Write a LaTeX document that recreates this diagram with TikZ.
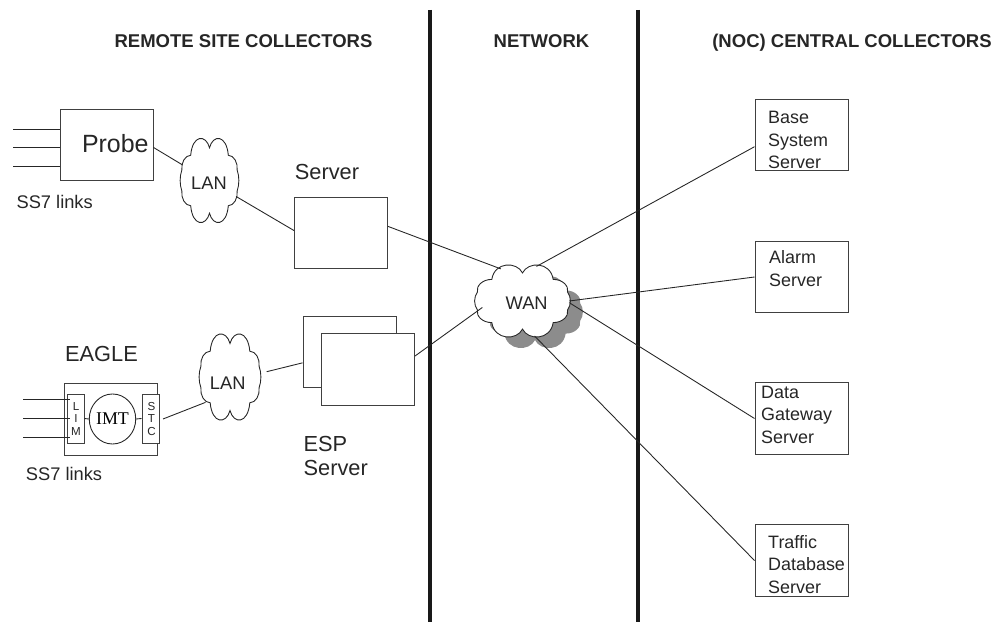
\documentclass[tikz,border=0pt]{standalone}
\usepackage{fontspec}
\setmainfont{Liberation Sans}
\newfontfamily\imtfont{Liberation Serif}
\usetikzlibrary{shapes.geometric}
\tikzset{
  thinline/.style={draw=black!85,line width=0.75pt},
  divider/.style={draw=black!90,line width=3.8pt},
  plainbox/.style={draw=black!75,line width=0.85pt,fill=white,inner sep=0pt,minimum width=2.79cm,minimum height=2.14cm},
  slotbox/.style={plainbox,minimum width=0.51cm,minimum height=1.47cm},
  port/.style={ellipse,inner sep=0pt},
  heading/.style={font=\fontsize{15.8}{19}\selectfont\bfseries,text=black!85},
  midlabel/.style={font=\fontsize{15.6}{19}\selectfont,text=black!85},
  biglabel/.style={font=\fontsize{18.6}{21.2}\selectfont,text=black!85,align=left},
  boxlabel/.style={font=\fontsize{15.3}{19.2}\selectfont,text=black!85,align=left,anchor=west,inner sep=0pt},
  slotlabel/.style={font=\fontsize{9.9}{11}\selectfont,text=black!85,align=center},
  puffs/.pic={
    \path[pic actions] (0,-0.78) .. controls (0.12,-1.1) and (0.6,-1.1) .. (0.66,-0.6)
      .. controls (0.86,-0.6) and (1.0,-0.42) .. (0.97,-0.25)
      .. controls (1.05,-0.1) and (1.05,0.1) .. (0.97,0.25)
      .. controls (1.0,0.42) and (0.86,0.6) .. (0.66,0.6)
      .. controls (0.6,1.1) and (0.12,1.1) .. (0,0.78)
      .. controls (-0.12,1.1) and (-0.6,1.1) .. (-0.66,0.6)
      .. controls (-0.86,0.6) and (-1.0,0.42) .. (-0.97,0.25)
      .. controls (-1.05,0.1) and (-1.05,-0.1) .. (-0.97,-0.25)
      .. controls (-1.0,-0.42) and (-0.86,-0.6) .. (-0.66,-0.6)
      .. controls (-0.6,-1.1) and (-0.12,-1.1) .. (0,-0.78) -- cycle;
  },
  cloudline/.style={draw=black!85,line width=0.75pt,fill=white},
}
\begin{document}
\begin{tikzpicture}[x=0.03cm,y=-0.03cm]
  \useasboundingbox (0,0) rectangle (994,622);
  \draw[divider] (430,10) -- (430,622);
  \draw[divider] (638,10) -- (638,622);
  \node[heading] (remotehead) at (243.5,41) {REMOTE SITE COLLECTORS};
  \node[heading] (nethead) at (541.5,41) {NETWORK};
  \node[heading] (centralhead) at (852,42.5) {(NOC) CENTRAL COLLECTORS};
  % probe
  \node[plainbox] (probe) at (106.5,145) {};
  \node[text=black!85,font=\fontsize{21.3}{25}\selectfont] (probetext) at (115.3,144) {Probe};
  \coordinate (linka) at (13,129);
  \coordinate (linkb) at (13,147);
  \coordinate (linkc) at (13,166);
  \draw[thinline] (linka) -- (linka -| probe.west);
  \draw[thinline] (linkb) -- (linkb -| probe.west);
  \draw[thinline] (linkc) -- (linkc -| probe.west);
  \node[midlabel] (linkstext) at (54.7,202) {SS7 links};
  \pic[cloudline,xscale=28.5,yscale=42] at (209.5,180.5) {puffs};
  \node[port,minimum width=1.71cm,minimum height=2.52cm] (lanone) at (209.5,180.5) {};
  \node[midlabel] (lanonetext) at (209,183) {LAN};
  \node[plainbox] (server) at (341,233) {};
  \node[biglabel] (servertext) at (327,172) {Server};
  % eagle
  \node[plainbox] (eagle) at (110.5,419.5) {};
  \node[biglabel] (eagletext) at (101.5,354) {EAGLE};
  \node[slotbox] (lim) at (75.5,418.5) {};
  \node[slotlabel] (limtext) at (76,419) {L\\I\\M};
  \node[slotbox] (stc) at (150.5,418.5) {};
  \node[slotlabel] (stctext) at (151.5,419) {S\\T\\C};
  \node[draw=black!85,line width=0.75pt,ellipse,inner sep=0pt,minimum width=1.23cm,minimum height=1.5cm,font=\imtfont\fontsize{15.3}{18}\selectfont] (imt) at (112.5,419) {IMT};
  \coordinate (eaglea) at (23,399);
  \coordinate (eagleb) at (23,418.7);
  \coordinate (eaglec) at (23,437);
  \draw[thinline] (eaglea) -- (70,399);
  \draw[thinline] (eagleb) -- (70,418.7);
  \draw[thinline] (eaglec) -- (70,437);
  \draw[thinline] (lim.east) -- (imt.west);
  \draw[thinline] (imt.east) -- (stc.west);
  \node[midlabel] (eaglelinks) at (64,474) {SS7 links};
  \pic[cloudline,xscale=30,yscale=43] at (230,377) {puffs};
  \node[port,minimum width=1.8cm,minimum height=2.58cm] (lantwo) at (230,377) {};
  \node[midlabel] (lantwotext) at (227.7,383) {LAN};
  \coordinate (lantwoout) at (266.7,371.7);
  \coordinate (stcout) at (163,419);
  \node[plainbox] (espback) at (349.5,352) {};
  \node[plainbox] (espfront) at (368,369.5) {};
  \node[biglabel,anchor=west] (esptext) at (299.5,456) {ESP\\Server};
  % wan
  \pic[fill=black!45,xscale=46.5,yscale=36] at (535,312) {puffs};
  \pic[cloudline,xscale=46.5,yscale=36] at (522.5,301) {puffs};
  \node[port,minimum width=2.79cm,minimum height=2.16cm] (wan) at (522.5,301) {};
  \node[midlabel] (wantext) at (526.7,303) {WAN};
  % central
  \node[plainbox] (base) at (801.5,135) {};
  \node[plainbox] (alarm) at (801.5,277) {};
  \node[plainbox] (gateway) at (801.5,418.5) {};
  \node[plainbox] (traffic) at (801.5,560.5) {};
  \node[boxlabel] (basetext) at (768,140) {Base\\System\\Server};
  \node[boxlabel] (alarmtext) at (769,268.5) {Alarm\\Server};
  \node[boxlabel] (gatewaytext) at (761,414.5) {Data\\Gateway\\Server};
  \node[boxlabel] (traffictext) at (768,564.5) {Traffic\\Database\\Server};
  % connectors
  \draw[thinline] (probe.-3.6) -- (lanone.150);
  \draw[thinline] (lanone.-31) -- (server.177.5);
  \draw[thinline] (server.8.5) -- (wan.124);
  \draw[thinline] (stcout) -- (lantwo.226);
  \draw[thinline] (lantwoout) -- (espback.193);
  \draw[thinline] (espfront.16) -- ([xshift=5pt]wan.188.6);
  \draw[thinline] (wan.68) -- (base.194.5);
  \draw[thinline] (wan.0) -- (alarm.west);
  \draw[thinline] (wan.-2) -- (gateway.west);
  \draw[thinline] (wan.-71) -- (traffic.west);
\end{tikzpicture}
\end{document}
